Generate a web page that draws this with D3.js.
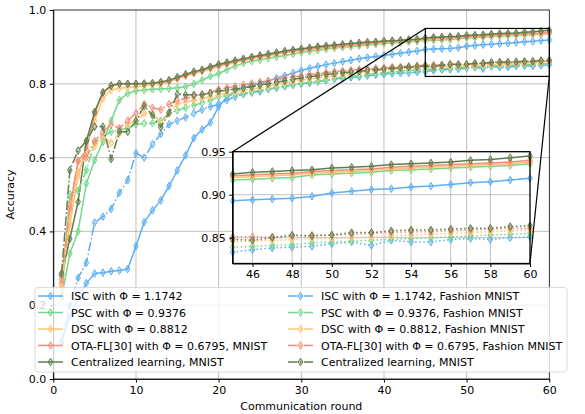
<!DOCTYPE html>
<html>
<head>
<meta charset="utf-8">
<script src="https://cdn.jsdelivr.net/npm/d3@7"></script>
<style>
  body { margin: 0; background: #fff; }
  text { font-family: "DejaVu Sans", sans-serif; }
</style>
</head>
<body>
<svg></svg>
<script>
// communication rounds
const rounds = d3.range(1, 61);

// MNIST curves (solid)
const isc_mnist = [0.10, 0.17, 0.22, 0.26, 0.286, 0.288, 0.292, 0.294, 0.298, 0.360,
  0.425, 0.457, 0.484, 0.523, 0.565, 0.606, 0.653, 0.676, 0.695, 0.738,
  0.765, 0.780, 0.789, 0.796, 0.801, 0.808, 0.815, 0.822, 0.829, 0.836,
  0.842, 0.847, 0.852, 0.856, 0.860, 0.864, 0.868, 0.871, 0.874, 0.877,
  0.880, 0.883, 0.886, 0.889, 0.893, 0.894, 0.895, 0.896, 0.898, 0.902,
  0.904, 0.906, 0.907, 0.909, 0.910, 0.912, 0.914, 0.915, 0.917, 0.919];
const psc_mnist = [0.22, 0.34, 0.40, 0.53, 0.593, 0.643, 0.700, 0.756, 0.774, 0.781,
  0.783, 0.785, 0.786, 0.787, 0.789, 0.792, 0.800, 0.810, 0.820, 0.828,
  0.838, 0.848, 0.856, 0.861, 0.865, 0.869, 0.873, 0.877, 0.881, 0.885,
  0.888, 0.891, 0.894, 0.897, 0.899, 0.901, 0.903, 0.905, 0.907, 0.909,
  0.911, 0.912, 0.914, 0.915, 0.917, 0.918, 0.919, 0.920, 0.923, 0.924,
  0.925, 0.926, 0.928, 0.929, 0.930, 0.931, 0.932, 0.933, 0.934, 0.936];
const dsc_mnist = [0.25, 0.42, 0.55, 0.63, 0.700, 0.760, 0.783, 0.788, 0.790, 0.792,
  0.795, 0.798, 0.800, 0.806, 0.813, 0.821, 0.828, 0.834, 0.840, 0.847,
  0.853, 0.858, 0.863, 0.868, 0.872, 0.876, 0.880, 0.884, 0.887, 0.890,
  0.893, 0.896, 0.898, 0.900, 0.902, 0.904, 0.906, 0.908, 0.910, 0.912,
  0.914, 0.915, 0.917, 0.918, 0.920, 0.921, 0.922, 0.923, 0.925, 0.926,
  0.927, 0.928, 0.930, 0.931, 0.932, 0.933, 0.934, 0.935, 0.936, 0.938];
const ota_mnist = [0.26, 0.46, 0.59, 0.62, 0.720, 0.775, 0.795, 0.800, 0.800, 0.800,
  0.800, 0.801, 0.803, 0.808, 0.815, 0.823, 0.830, 0.836, 0.843, 0.850,
  0.855, 0.860, 0.865, 0.870, 0.874, 0.878, 0.882, 0.886, 0.889, 0.892,
  0.895, 0.898, 0.900, 0.902, 0.904, 0.906, 0.908, 0.910, 0.912, 0.914,
  0.915, 0.917, 0.918, 0.920, 0.922, 0.923, 0.924, 0.925, 0.927, 0.928,
  0.929, 0.930, 0.932, 0.933, 0.934, 0.935, 0.936, 0.937, 0.938, 0.940];
const central_mnist = [0.28, 0.38, 0.48, 0.645, 0.724, 0.777, 0.795, 0.800, 0.800, 0.800,
  0.801, 0.802, 0.805, 0.810, 0.818, 0.826, 0.833, 0.838, 0.846, 0.853,
  0.858, 0.863, 0.868, 0.873, 0.877, 0.881, 0.885, 0.889, 0.892, 0.895,
  0.898, 0.901, 0.903, 0.905, 0.907, 0.909, 0.911, 0.913, 0.914, 0.916,
  0.917, 0.918, 0.920, 0.921, 0.924, 0.926, 0.927, 0.928, 0.929, 0.931,
  0.932, 0.933, 0.935, 0.936, 0.937, 0.938, 0.940, 0.941, 0.943, 0.945];

// Fashion MNIST curves (dash-dot)
const isc_fashion = [0.10, 0.20, 0.274, 0.315, 0.424, 0.440, 0.461, 0.505, 0.539, 0.612,
  0.600, 0.636, 0.664, 0.690, 0.700, 0.709, 0.720, 0.730, 0.738, 0.745,
  0.756, 0.765, 0.772, 0.776, 0.779, 0.785, 0.789, 0.793, 0.797, 0.800,
  0.802, 0.806, 0.809, 0.813, 0.815, 0.817, 0.819, 0.822, 0.824, 0.826,
  0.828, 0.829, 0.830, 0.832, 0.833, 0.836, 0.838, 0.839, 0.840, 0.843,
  0.845, 0.841, 0.847, 0.845, 0.845, 0.848, 0.849, 0.848, 0.850, 0.851];
const psc_fashion = [0.22, 0.50, 0.51, 0.566, 0.640, 0.657, 0.670, 0.675, 0.680, 0.690,
  0.693, 0.693, 0.700, 0.720, 0.728, 0.735, 0.742, 0.748, 0.755, 0.765,
  0.768, 0.771, 0.774, 0.779, 0.782, 0.786, 0.790, 0.794, 0.797, 0.800,
  0.804, 0.807, 0.810, 0.814, 0.818, 0.820, 0.823, 0.825, 0.828, 0.830,
  0.832, 0.834, 0.836, 0.838, 0.839, 0.840, 0.841, 0.842, 0.844, 0.845,
  0.846, 0.847, 0.848, 0.849, 0.850, 0.851, 0.852, 0.853, 0.854, 0.855];
const dsc_fashion = [0.25, 0.45, 0.56, 0.61, 0.630, 0.655, 0.640, 0.665, 0.690, 0.700,
  0.720, 0.720, 0.695, 0.720, 0.745, 0.750, 0.755, 0.760, 0.765, 0.770,
  0.774, 0.778, 0.781, 0.785, 0.790, 0.794, 0.798, 0.802, 0.806, 0.810,
  0.813, 0.816, 0.819, 0.822, 0.825, 0.828, 0.831, 0.833, 0.836, 0.838,
  0.840, 0.841, 0.842, 0.844, 0.845, 0.846, 0.847, 0.848, 0.849, 0.849,
  0.850, 0.851, 0.852, 0.853, 0.854, 0.855, 0.856, 0.857, 0.858, 0.859];
const ota_fashion = [0.27, 0.47, 0.59, 0.60, 0.645, 0.670, 0.690, 0.680, 0.700, 0.720,
  0.745, 0.735, 0.730, 0.745, 0.755, 0.760, 0.766, 0.772, 0.776, 0.785,
  0.789, 0.793, 0.797, 0.801, 0.805, 0.808, 0.812, 0.815, 0.819, 0.822,
  0.825, 0.827, 0.830, 0.833, 0.835, 0.837, 0.839, 0.840, 0.842, 0.843,
  0.845, 0.846, 0.848, 0.849, 0.851, 0.851, 0.851, 0.852, 0.853, 0.853,
  0.854, 0.855, 0.856, 0.857, 0.857, 0.858, 0.859, 0.860, 0.861, 0.861];
const central_fashion = [0.286, 0.566, 0.619, 0.645, 0.684, 0.684, 0.596, 0.670, 0.670, 0.700,
  0.740, 0.715, 0.682, 0.722, 0.772, 0.770, 0.770, 0.770, 0.775, 0.780,
  0.783, 0.786, 0.789, 0.792, 0.797, 0.800, 0.804, 0.808, 0.812, 0.816,
  0.819, 0.822, 0.825, 0.828, 0.830, 0.832, 0.834, 0.836, 0.838, 0.840,
  0.842, 0.843, 0.845, 0.846, 0.848, 0.847, 0.850, 0.853, 0.852, 0.853,
  0.856, 0.856, 0.858, 0.859, 0.859, 0.860, 0.861, 0.861, 0.863, 0.864];

const labels_mnist = ["ISC with \u03A6 = 1.1742", "PSC with \u03A6 = 0.9376", "DSC with \u03A6 = 0.8812",
  "OTA-FL[30] with \u03A6 = 0.6795, MNIST", "Centralized learning, MNIST"];
const labels_fashion = ["ISC with \u03A6 = 1.1742, Fashion MNIST", "PSC with \u03A6 = 0.9376, Fashion MNIST",
  "DSC with \u03A6 = 0.8812, Fashion MNIST", "OTA-FL[30] with \u03A6 = 0.6795, Fashion MNIST",
  "Centralized learning, MNIST"];
const colors = ["#5caff3", "#74d88a", "#ffc66f", "#fa8c7a", "#5f7f4e"];

const xTicks = [0, 10, 20, 30, 40, 50, 60];
const yTicks = [0, 0.2, 0.4, 0.6, 0.8, 1.0];
const xTicksInset = [46, 48, 50, 52, 54, 56, 58, 60];
const yTicksInset = [0.85, 0.90, 0.95];
const zoomX = [45, 60], zoomY = [0.82, 0.95];

const mnist = [isc_mnist, psc_mnist, dsc_mnist, ota_mnist, central_mnist];
const fashion = [isc_fashion, psc_fashion, dsc_fashion, ota_fashion, central_fashion];
const series = [];
mnist.forEach((v, i) => series.push({ values: v, color: colors[i], fashion: false }));
fashion.forEach((v, i) => series.push({ values: v, color: colors[i], fashion: true }));

const width = 585, height = 414;
const x = d3.scaleLinear().domain([0, 60]).range([53.3, 549.3]);
const y = d3.scaleLinear().domain([0, 1]).range([379, 10]);
const xi = d3.scaleLinear().domain(zoomX).range([232.7, 530]);
const yi = d3.scaleLinear().domain(zoomY).range([263.5, 151.7]);

const svg = d3.select("svg")
  .attr("width", width)
  .attr("height", height)
  .attr("viewBox", [0, 0, width, height]);

const gridColor = "#b0b0b0";
const dashDot = "9.6,2.4,1.5,2.4";
const dotted = "1.5,2.5";

function diamond(g, pts, sx, sy, color) {
  g.selectAll(null).data(pts).join("path")
    .attr("transform", d => `translate(${sx(d[0])},${sy(d[1])})`)
    .attr("d", "M0,-3.8L2.3,0L0,3.8L-2.3,0Z")
    .attr("fill", color).attr("fill-opacity", 0.35)
    .attr("stroke", color).attr("stroke-width", 1);
}

// main grid
svg.append("g").selectAll("line").data(yTicks.slice(1, -1)).join("line")
  .attr("x1", x(0)).attr("x2", x(60))
  .attr("y1", d => y(d)).attr("y2", d => y(d))
  .attr("stroke", gridColor).attr("stroke-width", 0.8);

// inset background (main vertical grid shows through it)
svg.append("rect")
  .attr("x", xi(zoomX[0])).attr("y", yi(zoomY[1]))
  .attr("width", xi(zoomX[1]) - xi(zoomX[0])).attr("height", yi(zoomY[0]) - yi(zoomY[1]))
  .attr("fill", "#fff");

svg.append("g").selectAll("line").data(xTicks.slice(1, -1)).join("line")
  .attr("x1", d => x(d)).attr("x2", d => x(d))
  .attr("y1", y(0)).attr("y2", y(1))
  .attr("stroke", gridColor).attr("stroke-width", 0.8);

// main curves
const line = d3.line().x((d, i) => x(rounds[i])).y(d => y(d));
const mainG = svg.append("g");
series.forEach(s => {
  mainG.append("path")
    .attr("fill", "none").attr("stroke", s.color).attr("stroke-width", 1.5)
    .attr("stroke-dasharray", s.fashion ? dashDot : null)
    .attr("d", line(s.values));
  diamond(mainG, s.values.map((v, i) => [rounds[i], v]), x, y, s.color);
});

// main axes
const xAxis = d3.axisBottom(x).tickValues(xTicks).tickSize(3.5).tickPadding(3.5).tickSizeOuter(0);
const yAxis = d3.axisLeft(y).tickValues(yTicks).tickFormat(d3.format(".1f")).tickSize(3.5).tickPadding(3.5).tickSizeOuter(0);
svg.append("g").attr("transform", `translate(0,${y(0)})`).call(xAxis);
svg.append("g").attr("transform", `translate(${x(0)},0)`).call(yAxis);
svg.append("rect")
  .attr("x", x(0)).attr("y", y(1)).attr("width", x(60) - x(0)).attr("height", y(0) - y(1))
  .attr("fill", "none").attr("stroke", "#000").attr("stroke-width", 0.8);

svg.append("text").attr("x", (x(0) + x(60)) / 2).attr("y", 410)
  .attr("text-anchor", "middle").attr("font-size", 11).text("Communication round");
svg.append("text").attr("transform", `translate(14,${(y(0) + y(1)) / 2}) rotate(-90)`)
  .attr("text-anchor", "middle").attr("font-size", 11).text("Accuracy");

// legend
const leg = svg.append("g");
leg.append("rect").attr("x", 35).attr("y", 287.5).attr("width", 532).attr("height", 84.5)
  .attr("rx", 3).attr("fill", "#fff").attr("fill-opacity", 0.8)
  .attr("stroke", "#d0d0d0").attr("stroke-width", 0.8);
[labels_mnist, labels_fashion].forEach((labs, c) => {
  const x0 = c === 0 ? 38 : 288;
  labs.forEach((t, i) => {
    const yy = 296 + i * 16.5;
    leg.append("line").attr("x1", x0).attr("x2", x0 + 25).attr("y1", yy).attr("y2", yy)
      .attr("stroke", colors[i]).attr("stroke-width", 1.5)
      .attr("stroke-dasharray", c === 1 ? dashDot : null);
    leg.append("path").attr("transform", `translate(${x0 + 12.5},${yy})`)
      .attr("d", "M0,-3.8L2.3,0L0,3.8L-2.3,0Z")
      .attr("fill", colors[i]).attr("fill-opacity", 0.35)
      .attr("stroke", colors[i]).attr("stroke-width", 1);
    leg.append("text").attr("x", x0 + 33).attr("y", yy + 4)
      .attr("font-size", 11).text(t);
  });
});

// inset
const ins = svg.append("g");
ins.append("g").selectAll("line").data(xTicksInset.slice(0, -1)).join("line")
  .attr("x1", d => xi(d)).attr("x2", d => xi(d))
  .attr("y1", yi(zoomY[0])).attr("y2", yi(zoomY[1]))
  .attr("stroke", gridColor).attr("stroke-width", 0.8);
ins.append("g").selectAll("line").data(yTicksInset.slice(0, -1)).join("line")
  .attr("x1", xi(zoomX[0])).attr("x2", xi(zoomX[1]))
  .attr("y1", d => yi(d)).attr("y2", d => yi(d))
  .attr("stroke", gridColor).attr("stroke-width", 0.8);

const lineI = d3.line().x(d => xi(d[0])).y(d => yi(d[1]));
series.forEach(s => {
  const pts = s.values.map((v, i) => [rounds[i], v]).filter(d => d[0] >= zoomX[0]);
  ins.append("path")
    .attr("fill", "none").attr("stroke", s.color).attr("stroke-width", 1.5)
    .attr("stroke-dasharray", s.fashion ? dotted : null)
    .attr("d", lineI(pts));
  diamond(ins, pts, xi, yi, s.color);
});

ins.append("g").attr("transform", `translate(0,${yi(zoomY[0])})`)
  .call(d3.axisBottom(xi).tickValues(xTicksInset).tickSize(3.5).tickPadding(3.5).tickSizeOuter(0));
ins.append("g").attr("transform", `translate(${xi(zoomX[0])},0)`)
  .call(d3.axisLeft(yi).tickValues(yTicksInset).tickFormat(d3.format(".2f")).tickSize(3.5).tickPadding(3.5).tickSizeOuter(0));
ins.append("rect")
  .attr("x", xi(zoomX[0])).attr("y", yi(zoomY[1]))
  .attr("width", xi(zoomX[1]) - xi(zoomX[0])).attr("height", yi(zoomY[0]) - yi(zoomY[1]))
  .attr("fill", "none").attr("stroke", "#000").attr("stroke-width", 1.3);

// zoom box + connectors
svg.append("rect")
  .attr("x", x(zoomX[0])).attr("y", y(zoomY[1]))
  .attr("width", x(zoomX[1]) - x(zoomX[0])).attr("height", y(zoomY[0]) - y(zoomY[1]))
  .attr("fill", "none").attr("stroke", "#000").attr("stroke-width", 1.2);
svg.append("line").attr("x1", x(zoomX[0])).attr("y1", y(zoomY[1]))
  .attr("x2", xi(zoomX[0])).attr("y2", yi(zoomY[1])).attr("stroke", "#000").attr("stroke-width", 1.2);
svg.append("line").attr("x1", x(zoomX[1])).attr("y1", y(zoomY[0]))
  .attr("x2", xi(zoomX[1])).attr("y2", yi(zoomY[0])).attr("stroke", "#000").attr("stroke-width", 1.2);

svg.selectAll(".tick text").attr("font-size", 11).attr("fill", "#000").attr("font-family", "DejaVu Sans");
svg.selectAll(".domain").attr("stroke", "#000").attr("stroke-width", 0.8);
</script>
</body>
</html>
